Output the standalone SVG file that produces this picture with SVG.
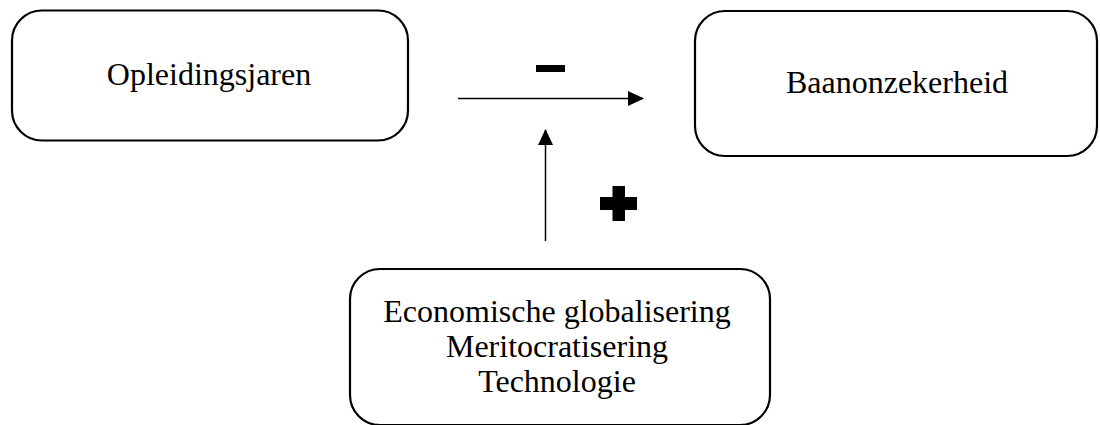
<svg xmlns="http://www.w3.org/2000/svg" width="1100" height="425" viewBox="0 0 1100 425">
<style>
.box{fill:#fff;stroke:#000;stroke-width:2.2}
.t{font-family:"Liberation Serif","Times New Roman",serif;font-size:32px;fill:#000;text-anchor:middle}
.ln{stroke:#000;stroke-width:1.5;fill:none}
</style>
<defs>
<marker id="ah" markerWidth="16" markerHeight="16" refX="15" refY="8" orient="auto" markerUnits="userSpaceOnUse">
<path d="M0,0.5 L16,8 L0,15.5 Z" fill="#000"/>
</marker>
</defs>
<rect width="1100" height="425" fill="#fff"/>
<g id="node-opleidingsjaren">
<rect class="box" x="12" y="10.5" width="396" height="130" rx="30"/>
<text class="t" x="209" y="85">Opleidingsjaren</text>
</g>
<g id="node-baanonzekerheid">
<rect class="box" x="695" y="11" width="402" height="145" rx="30"/>
<text class="t" x="897" y="93">Baanonzekerheid</text>
</g>
<g id="node-factoren">
<rect class="box" x="350" y="269" width="420" height="156" rx="30"/>
<text class="t" x="557" y="322">Economische globalisering</text>
<text class="t" x="557" y="357">Meritocratisering</text>
<text class="t" x="557" y="392">Technologie</text>
</g>
<g id="connectors">
<line class="ln" x1="458" y1="98.5" x2="643" y2="98.5" marker-end="url(#ah)"/>
<line class="ln" x1="545.5" y1="241" x2="545.5" y2="130" marker-end="url(#ah)"/>
</g>
<g id="labels">
<rect x="536" y="65" width="29" height="7" fill="#000"/>
<path d="M612.5,186 H625 V197 H637 V210 H625 V221 H612.5 V210 H600 V197 H612.5 Z" fill="#000"/>
</g>
</svg>
